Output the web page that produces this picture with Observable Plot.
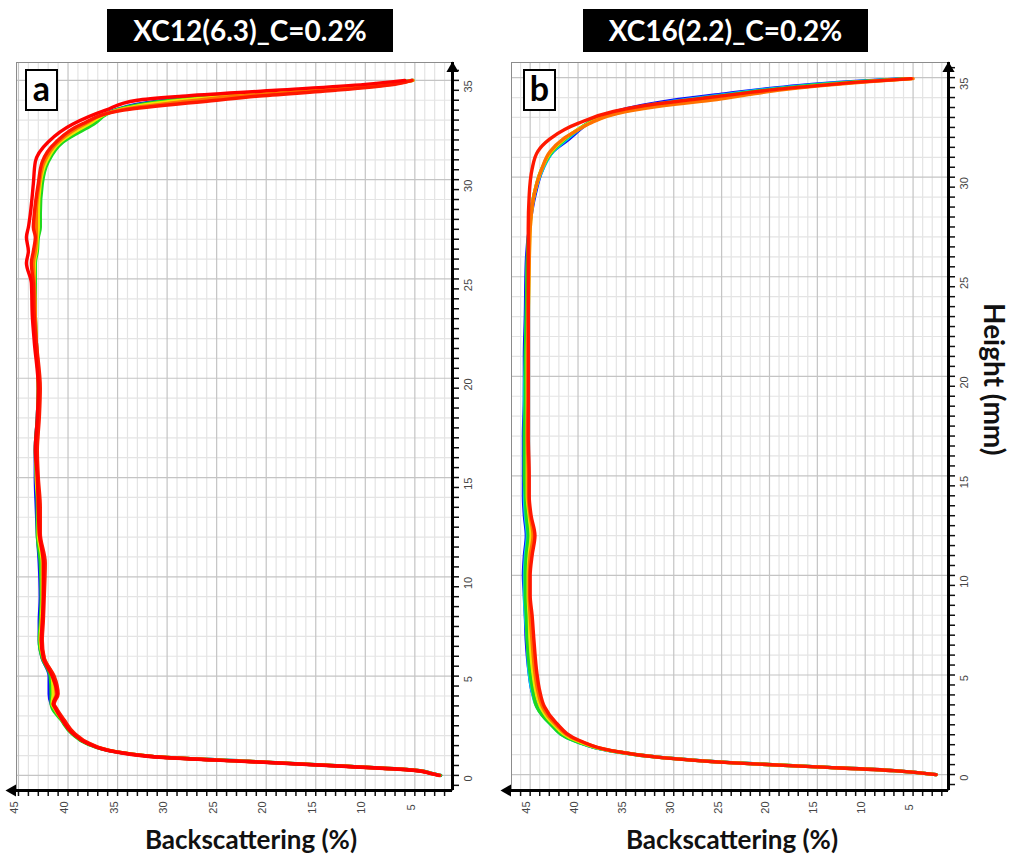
<!DOCTYPE html>
<html><head><meta charset="utf-8">
<script src="https://cdn.jsdelivr.net/npm/d3@7"></script>
<script src="https://cdn.jsdelivr.net/npm/@observablehq/plot@0.6"></script>
<style>
body{margin:0;background:#fff;}
#wrap{position:relative;width:1012px;height:858px;overflow:hidden;background:#fff;font-family:Lato,"Open Sans",sans-serif;}
.title{position:absolute;top:9px;height:43px;background:#000;color:#fff;font-weight:bold;font-size:28px;line-height:43px;text-align:center;white-space:nowrap;}
.plab{position:absolute;top:69px;width:29px;height:38px;border:2px solid #000;background:#fff;font-weight:bold;font-size:34px;line-height:34px;text-align:center;z-index:5;}
.xlab{position:absolute;top:823px;width:300px;font-weight:bold;font-size:26px;line-height:32px;text-align:center;color:#111;white-space:nowrap;}
.ylab{position:absolute;left:979px;top:303px;writing-mode:vertical-rl;font-weight:bold;font-size:28px;line-height:32px;color:#111;white-space:nowrap;}
.panel{position:absolute;top:55px;}
</style></head>
<body><div id="wrap">
<div class="title" style="left:107px;width:286px;">XC12(6.3)_C=0.2%</div>
<div class="title" style="left:583px;width:285px;">XC16(2.2)_C=0.2%</div>
<div class="panel" id="pa" style="left:0px;"></div>
<div class="panel" id="pb" style="left:495px;"></div>
<div class="plab" style="left:25px;">a</div>
<div class="plab" style="left:523px;">b</div>
<div class="xlab" style="left:101px;">Backscattering (%)</div>
<div class="xlab" style="left:582px;">Backscattering (%)</div>
<div class="ylab">Height (mm)</div>
</div>
<script>
// ---------- data ----------
const xTickLabels = [45, 40, 35, 30, 25, 20, 15, 10, 5];
const yTickLabels = [0, 5, 10, 15, 20, 25, 30, 35];
const scanColors = {blue: "#0a0aff", cyan: "#00d0e6", green: "#1ed81e", yellow: "#efe600", orange: "#ff7200", red: "#ff1800", red2: "#ff0000"};

// Panel a : XC12(6.3)  heights (mm)
const heightsA = [0, 0.1, 0.25, 0.45, 0.7, 0.9, 1.2, 1.6, 2.1, 2.8, 3.4, 3.6, 4.1, 5.0, 5.9, 6.8, 7.7, 9.0, 10.7, 12.2, 13.5, 15.0, 16.4, 18.0, 19.5, 21.8, 23.1, 24.8, 25.8, 26.4, 27.1, 27.6, 28.3, 29.8, 30.9, 31.9, 32.8, 33.5, 34.0, 34.2, 34.5, 34.8, 35.0];
const blueA   = [2.4, 3.3, 4.7, 11.4, 21.5, 30.0, 35.3, 38.0, 39.5, 40.6, 41.5, 41.7, 41.9, 41.9, 42.6, 42.9, 42.9, 42.8, 42.9, 43.1, 43.2, 43.3, 43.3, 43.1, 43.0, 43.2, 43.3, 43.3, 43.4, 43.2, 43.2, 43.1, 43.0, 42.7, 42.1, 40.6, 37.6, 35.3, 30.0, 25.5, 16.0, 8.3, 5.3];
const greenA  = [2.4, 3.3, 4.7, 11.4, 21.5, 30.0, 35.3, 38.1, 39.6, 40.7, 41.6, 41.7, 41.7, 41.8, 42.6, 42.9, 42.8, 42.7, 42.8, 43.1, 43.1, 43.2, 43.3, 43.1, 43.0, 43.2, 43.3, 43.3, 43.3, 43.1, 43.0, 42.8, 42.8, 42.6, 42.0, 40.5, 37.4, 35.2, 29.5, 25.0, 15.5, 8.0, 5.2];
const yellowA = [2.5, 3.4, 4.8, 11.5, 21.6, 30.0, 35.2, 37.9, 39.4, 40.6, 41.4, 41.6, 41.5, 41.6, 42.5, 42.8, 42.7, 42.6, 42.6, 43.0, 43.0, 43.2, 43.2, 43.0, 43.0, 43.2, 43.3, 43.4, 43.4, 43.2, 43.1, 43.0, 43.0, 42.8, 42.2, 40.8, 37.9, 35.0, 28.5, 24.0, 15.0, 7.8, 5.2];
const orangeA = [2.5, 3.4, 4.8, 11.5, 21.6, 30.0, 35.2, 37.9, 39.4, 40.5, 41.3, 41.5, 41.2, 41.5, 42.4, 42.7, 42.6, 42.5, 42.4, 42.9, 42.9, 43.1, 43.1, 43.0, 42.9, 43.2, 43.3, 43.4, 43.5, 43.3, 43.2, 43.2, 43.2, 42.9, 42.4, 41.0, 38.3, 34.8, 27.0, 23.0, 14.0, 7.4, 5.2];
const redA    = [2.5, 3.4, 4.8, 11.6, 21.7, 30.1, 35.2, 37.8, 39.3, 40.4, 41.2, 41.4, 41.0, 41.4, 42.4, 42.6, 42.5, 42.4, 42.3, 42.8, 42.8, 43.0, 43.1, 42.9, 42.8, 43.2, 43.4, 43.5, 43.7, 43.5, 43.3, 43.5, 43.4, 43.0, 42.6, 41.2, 38.6, 34.4, 25.0, 21.0, 13.0, 7.0, 5.3];
const red2A   = [2.6, 3.5, 5.0, 11.9, 22.0, 30.4, 35.4, 38.0, 39.5, 40.6, 41.3, 41.5, 41.1, 41.6, 42.5, 42.7, 42.6, 42.5, 42.5, 42.9, 43.0, 43.1, 43.3, 43.1, 43.0, 43.4, 43.6, 43.7, 44.2, 44.0, 44.2, 44.0, 43.8, 43.5, 43.3, 42.0, 39.5, 36.2, 33.0, 28.5, 19.0, 10.0, 6.0];

// Panel b : XC16(2.2)  heights (mm)
const heightsB = [0, 0.2, 0.4, 0.6, 0.85, 1.2, 1.7, 2.6, 3.4, 4.2, 5.1, 6.7, 8.0, 9.0, 10.0, 11.0, 12.0, 13.0, 14.0, 15.0, 17.0, 19.0, 21.0, 23.0, 25.7, 27.4, 29.1, 30.4, 31.3, 31.9, 32.4, 32.7, 33.3, 33.6, 33.9, 34.2, 34.4, 34.6, 34.8, 34.95];
const blueB   = [2.6, 6.9, 15.5, 24.0, 31.1, 36.7, 40.3, 42.9, 44.2, 44.8, 45.1, 45.4, 45.5, 45.6, 45.7, 45.6, 45.4, 45.6, 45.7, 45.7, 45.7, 45.6, 45.6, 45.5, 45.4, 45.1, 44.5, 43.7, 42.6, 41.0, 39.8, 39.0, 36.0, 33.3, 29.5, 24.5, 21.0, 17.0, 11.5, 5.8];
const cyanB   = [2.6, 7.0, 15.5, 24.1, 31.2, 36.7, 40.4, 43.0, 44.3, 44.8, 45.1, 45.3, 45.5, 45.6, 45.6, 45.5, 45.3, 45.5, 45.6, 45.6, 45.6, 45.6, 45.5, 45.4, 45.3, 45.1, 44.6, 43.7, 42.6, 41.2, 39.9, 39.0, 35.8, 32.8, 28.6, 23.8, 20.4, 16.4, 11.0, 5.6];
const greenB  = [2.6, 7.0, 15.5, 24.1, 31.2, 36.7, 40.4, 43.0, 44.3, 44.7, 45.0, 45.3, 45.4, 45.5, 45.5, 45.4, 45.2, 45.4, 45.5, 45.6, 45.6, 45.5, 45.5, 45.4, 45.3, 45.1, 44.6, 43.8, 42.7, 41.4, 40.0, 39.0, 35.6, 32.3, 27.8, 23.2, 19.8, 15.8, 10.7, 5.4];
const yellowB = [2.6, 7.0, 15.6, 24.2, 31.2, 36.6, 40.1, 42.7, 43.9, 44.4, 44.7, 45.0, 45.1, 45.2, 45.2, 45.1, 44.9, 45.1, 45.3, 45.3, 45.3, 45.3, 45.3, 45.2, 45.1, 45.0, 44.6, 43.8, 42.8, 41.5, 40.0, 38.9, 35.3, 31.6, 26.5, 22.0, 19.0, 15.0, 10.0, 5.2];
const orangeB = [2.6, 7.0, 15.6, 24.2, 31.2, 36.5, 39.9, 42.5, 43.7, 44.2, 44.5, 44.8, 45.0, 45.1, 45.1, 45.0, 44.7, 45.0, 45.2, 45.2, 45.3, 45.2, 45.2, 45.2, 45.1, 45.0, 44.6, 43.8, 42.9, 41.6, 39.9, 38.8, 35.0, 31.0, 25.5, 21.5, 18.5, 14.5, 9.5, 5.0];
const redB    = [2.6, 7.0, 15.7, 24.3, 31.3, 36.5, 39.8, 42.3, 43.5, 44.0, 44.3, 44.6, 44.8, 45.0, 45.0, 44.8, 44.5, 44.9, 45.1, 45.1, 45.2, 45.2, 45.2, 45.2, 45.2, 45.2, 45.1, 44.8, 44.2, 43.0, 41.4, 40.0, 36.3, 33.0, 28.0, 23.0, 19.5, 15.0, 10.0, 5.2];

// axis extents (Backscattering %, Height mm)
const xDomA = [45.2, 1.2], yDomA = [-0.76, 35.9];
const xDomB = [46.95, 1.3], yDomB = [-0.8, 35.76];

// ---------- drawing ----------
function seriesRows(heights, values, scan) {
  return heights.map((h, i) => ({h, bs: values[i], scan}));
}

function panel(heights, series, xDom, yDom) {
  const lo = Math.min(...xDom), hi = Math.max(...xDom);
  const xMinor = d3.range(Math.ceil(lo), Math.floor(hi) + 1);
  const yMinor = d3.range(Math.ceil(yDom[0]), Math.floor(yDom[1]) + 1);
  const yTicks = d3.range(Math.ceil(yDom[0] * 2) / 2, yDom[1], 0.5);
  const lines = series.map(([scan, vals]) =>
    Plot.line(seriesRows(heights, vals, scan), {x: "bs", y: "h", stroke: scanColors[scan], strokeWidth: 3.4, curve: "monotone-y"}));
  return Plot.plot({
    width: 492 + (hi - lo > 45 ? 1 : 0), height: 765,
    marginLeft: 16, marginTop: 7, marginRight: 40, marginBottom: 30,
    x: {domain: xDom}, y: {domain: yDom},
    style: {fontFamily: "'Liberation Sans', Arial, sans-serif", fontSize: "11px", overflow: "visible", background: "transparent"},
    marks: [
      Plot.ruleX(xMinor.filter(d => d % 5 !== 0), {stroke: "#e4e4e4", strokeWidth: 1.2}),
      Plot.ruleY(yMinor.filter(d => d % 5 !== 0), {stroke: "#e4e4e4", strokeWidth: 1.2}),
      Plot.ruleX(xMinor.filter(d => d % 5 === 0), {stroke: "#c4c4c4", strokeWidth: 1.2}),
      Plot.ruleY(yMinor.filter(d => d % 5 === 0), {stroke: "#c4c4c4", strokeWidth: 1.2}),
      Plot.frame({stroke: "#8c8c8c"}),
      ...lines,
      Plot.axisX({ticks: xMinor, tickSize: 6, tickFormat: () => "", label: null, strokeWidth: 1.5, stroke: "#111"}),
      Plot.axisY({anchor: "right", ticks: yTicks, tickSize: 6, tickFormat: () => "", label: null, strokeWidth: 1.5, stroke: "#111"}),
      Plot.ruleY([yDom[0]], {stroke: "#000", strokeWidth: 3}),
      Plot.ruleX([xDom[1]], {stroke: "#000", strokeWidth: 3}),
      Plot.text(xTickLabels, {x: d => d, frameAnchor: "bottom", dy: 17, rotate: -90, text: d => String(d), fill: "#444", fontSize: 11}),
      Plot.text(yTickLabels, {y: d => d, frameAnchor: "right", dx: 16, rotate: -90, text: d => String(d), fill: "#444", fontSize: 11}),
      Plot.dot([0], {x: () => xDom[0], y: () => yDom[0], dx: -4, symbol: "triangle", rotate: -90, r: 4.5, fill: "#000", stroke: "none"}),
      Plot.dot([0], {x: () => xDom[1], y: () => yDom[1], dy: 6, symbol: "triangle", r: 4.5, fill: "#000", stroke: "none"})
    ]
  });
}

document.getElementById("pa").appendChild(panel(heightsA,
  [["blue", blueA], ["green", greenA], ["yellow", yellowA], ["orange", orangeA], ["red", redA], ["red2", red2A]], xDomA, yDomA));
document.getElementById("pb").appendChild(panel(heightsB,
  [["blue", blueB], ["cyan", cyanB], ["green", greenB], ["yellow", yellowB], ["orange", orangeB], ["red", redB]], xDomB, yDomB));
</script>
</body></html>
